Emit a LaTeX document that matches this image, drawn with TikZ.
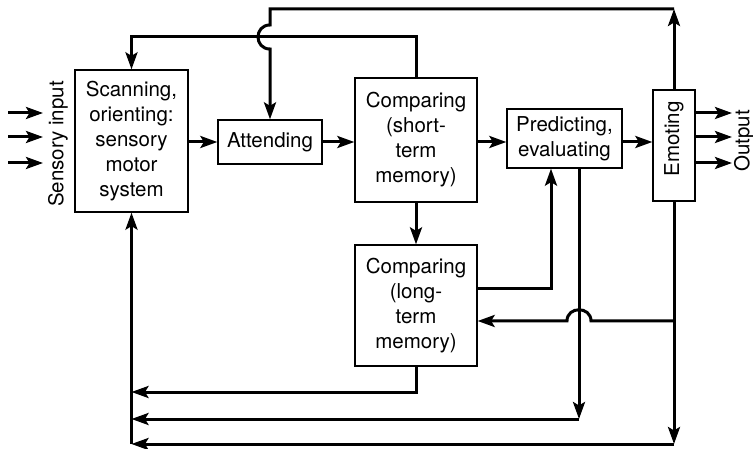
\documentclass[tikz,border=0pt]{standalone}
\usepackage{fontspec}
\setmainfont{TeX Gyre Heros}
\usetikzlibrary{arrows.meta}
\begin{document}
\begin{tikzpicture}[x=1pt,y=-1pt,
  box/.style={draw, line width=1.3pt, inner sep=0pt, align=center,
    font=\fontsize{20.5}{25}\selectfont},
  lbl/.style={inner sep=0pt, font=\fontsize{20.5}{24}\selectfont},
  conn/.style={line width=3pt},
  arr/.style={conn, -{Stealth[length=17pt,width=12pt,inset=3.5pt]}}]
\useasboundingbox (0,0) rectangle (753,449);
% boxes
\node[box, minimum width=113pt, minimum height=142pt] (scan) at (131.5,141)
  {Scanning,\\orienting:\\sensory\\motor\\system};
\node[box, minimum width=104pt, minimum height=44pt] (att) at (270,142) {Attending};
\node[box, minimum width=122pt, minimum height=124pt] (cs) at (416,140)
  {Comparing\\(short-\\term\\memory)};
\node[box, minimum width=115pt, minimum height=59pt] (pe) at (564.5,138.5)
  {Predicting,\\evaluating};
\node[box, minimum width=42pt, minimum height=111pt] (em) at (674,145.5) {};
\node[lbl, rotate=90] (emt) at (674,139) {Emoting};
\node[box, minimum width=122pt, minimum height=121pt] (cl) at (416,305.5)
  {Comparing\\(long-\\term\\memory)};
\node[lbl, rotate=90] (sin) at (58,144) {Sensory input};
\node[lbl, rotate=90] (out) at (744,141) {Output};
% reference levels
\coordinate (yT) at (0,9);
\coordinate (yA) at (0,37);
\coordinate (yD) at (0,289);
\coordinate (yF) at (0,321);
\coordinate (yB) at (0,392);
\coordinate (yC) at (0,419);
\coordinate (yE) at (0,444);
% input and output arrows
\foreach \i/\y in {1/113,2/137,3/163}{
  \coordinate (in\i) at (8,\y);
  \coordinate (ine\i) at (43,\y);
  \coordinate (ot\i) at (732,\y);
  \draw[arr] (in\i) -- (ine\i);
  \draw[arr] (em.east |- ot\i) -- (ot\i);
}
% forward chain
\draw[arr] (scan.east |- att.west) -- (att.west);
\draw[arr] (att.east) -- (cs.west |- att.east);
\draw[arr] (cs.east |- att.east) -- (pe.west |- att.east);
\draw[arr] (pe.east |- att.east) -- (em.west |- att.east);
\draw[arr] (cs.south) -- (cl.north);
% top loops
\coordinate (c1) at (em.north |- yT);
\coordinate (c2) at (att.north |- yT);
\coordinate (h1) at ([yshift=12pt]att.north |- yA);
\coordinate (h2) at ([yshift=-12pt]att.north |- yA);
\draw[arr] (em.north) -- (c1);
\draw[arr] (c1) -- (c2) -- (h1) .. controls ([xshift=-16pt]h1) and ([xshift=-16pt]h2) .. (h2) -- (att.north);
\draw[arr] (cs.north) -- (cs.north |- yA) -- (scan.north |- yA) -- (scan.north);
% bottom loops
\coordinate (pd) at ([xshift=14.5pt]pe.south);
\coordinate (pu) at ([xshift=-13.5pt]pe.south);
\draw[arr] (cl.east |- yD) -- (pu |- yD) -- (pu);
\draw[arr] (pd) -- (pd |- yC);
\draw[arr] (pd |- yC) -- (scan.south |- yC);
\draw[arr] (cl.south) -- (cl.south |- yB) -- (scan.south |- yB);
\draw[arr] (em.south) -- (em.south |- yE);
\draw[arr] (em.south |- yE) -- (scan.south |- yE);
\draw[arr] (scan.south |- yE) -- (scan.south);
\coordinate (k1) at ([xshift=12pt]pd |- yF);
\coordinate (k2) at ([xshift=-12pt]pd |- yF);
\draw[arr] (em.south |- yF) -- (k1) .. controls ([yshift=15pt]k1) and ([yshift=15pt]k2) .. (k2) -- (cl.east |- yF);
\end{tikzpicture}
\end{document}
